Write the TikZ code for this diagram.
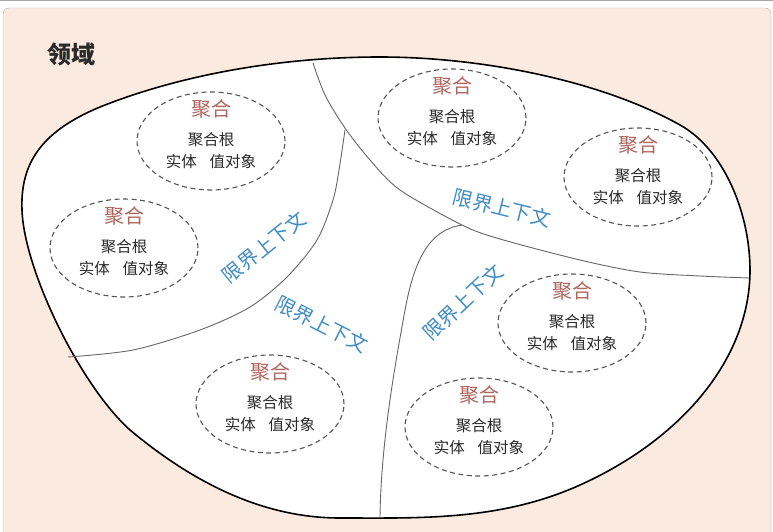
\documentclass[tikz,border=0pt]{standalone}
\usepackage{fontspec}
\newfontfamily\cjk{Noto Sans CJK SC}
\usetikzlibrary{shapes.geometric}
\definecolor{peach}{HTML}{FBEADF}
\definecolor{aggred}{HTML}{B0665E}
\definecolor{bcblue}{HTML}{3F8CC6}
\definecolor{ink}{HTML}{2A2A2A}

\begin{document}
\begin{tikzpicture}[x=1pt,y=-1pt,
 every node/.style={font=\cjk,text=ink,inner sep=0pt},
 agg/.style={draw=ink!80,dash pattern=on 5pt off 3.5pt,line width=1.1pt,ellipse,
   minimum width=148pt,minimum height=98pt},
 aggtitle/.style={font=\cjk\fontsize{20}{24}\selectfont,text=aggred},
 aggtext/.style={font=\cjk\fontsize{15.5}{18}\selectfont},
 bc/.style={font=\cjk\fontsize{20}{24}\selectfont,text=bcblue},
 part/.style={draw=black!60,line width=0.9pt}]
\useasboundingbox (0,0) rectangle (773,532);
% background
\begin{scope}
\clip (0,0) rectangle (773,532);
\draw[black!35,line width=1pt] (0,0.5)--(773,0.5);
\filldraw[fill=peach,draw=black!30,rounded corners=6pt] (3,8) rectangle (771,545);
\end{scope}
\node[font=\cjk\bfseries\fontsize{24}{28}\selectfont] (domain) at (71,54) {领域};
% domain outline
\draw[line width=1.6pt,fill=white] (22,210)
 .. controls (20,160) and (45,130) .. (100,107)
 .. controls (180,75) and (280,57) .. (380,57)
 .. controls (480,57) and (600,80) .. (680,125)
 .. controls (725,150) and (750,215) .. (750,270)
 .. controls (750,360) and (680,440) .. (580,485)
 .. controls (500,521) and (420,518) .. (340,518)
 .. controls (260,518) and (190,480) .. (130,430)
 .. controls (80,385) and (24,270) .. (22,210) -- cycle;
% bounded contexts
\draw[part] plot[smooth] coordinates {(313,63) (325,95) (345,128) (370,160) (400,190)
 (462,225) (500,239) (580,260) (640,272) (700,276) (749,278)};
\draw[part] plot[smooth] coordinates {(345,130) (339,170) (333,200) (317,240) (287,277)
 (250,307) (200,330) (133,350) (68,357)};
\draw[part] (462,225) .. controls (428,230) and (414,262) .. (405,310)
 .. controls (396,360) and (381,440) .. (380,517);
\node[bc,rotate=39] (bc1) at (264,247) {限界上下文};
\node[bc,rotate=-27] (bc2) at (322,324) {限界上下文};
\node[bc,rotate=-14] (bc3) at (502,208) {限界上下文};
\node[bc,rotate=43] (bc4) at (463,302) {限界上下文};
% aggregates
\foreach \n/\cx/\cy in {aggA/211/141,aggB/124/248,aggC/452/118,aggD/638/177,
  aggE/270/404,aggF/572/323,aggG/479/427}{
 \node[agg] (\n) at (\cx,\cy) {};
 \node[aggtitle] (\n-t) at (\cx,\cy-32) {聚合};
 \node[aggtext] (\n-r) at (\cx,\cy-1.5) {聚合根};
 \node[aggtext] (\n-e) at (\cx,\cy+21) {实体\hspace{13pt}值对象};
}
\end{tikzpicture}
\end{document}
